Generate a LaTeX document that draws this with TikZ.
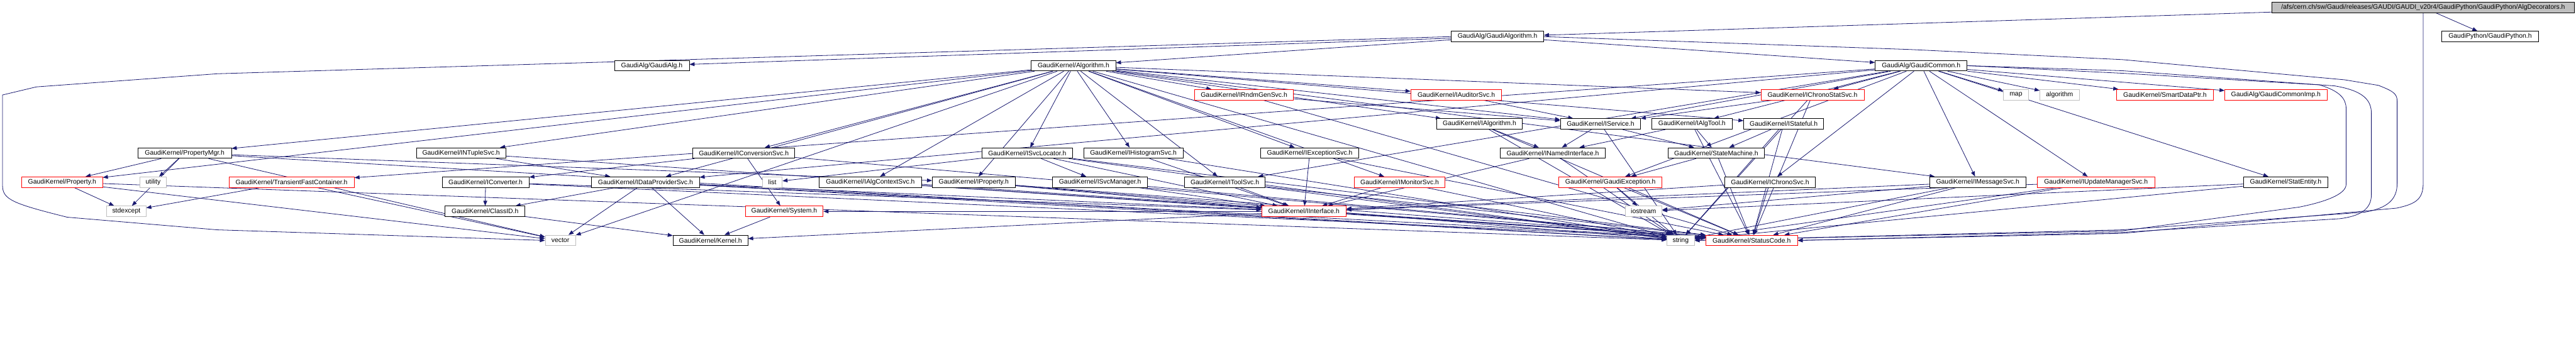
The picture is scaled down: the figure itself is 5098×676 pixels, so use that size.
\documentclass[tikz,border=0pt]{standalone}
\usepackage{fontspec}
\setmainfont{Liberation Sans}
\usetikzlibrary{arrows.meta}
\definecolor{edgec}{HTML}{191970}
\definecolor{greyc}{HTML}{BFBFBF}
\pgfdeclarelayer{bgl}
\pgfdeclarelayer{edgel}
\pgfsetlayers{bgl,edgel,main}
\newcommand\nd[6]{\node[#5, minimum width={(#3-#2)*0.5pt}] (#1) at ({(#2+#3)/2},#4) {#6};}
\begin{document}
\begin{tikzpicture}[x=0.5pt,y=-0.5pt,
  box/.style={draw=black, fill=white, line width=0.5pt, minimum height=10.5pt, inner sep=0pt,
              font=\fontsize{6.5}{7.8}\selectfont, text=black},
  redbox/.style={box, draw=red},
  sysbox/.style={box, draw=greyc},
  rootbox/.style={box, fill=greyc},
  edge/.style={draw=edgec, line width=0.5pt, -{Triangle[length=5pt,width=3.8pt]}}]
\useasboundingbox (0,0) rectangle (5098,676);
\begin{pgfonlayer}{bgl}
\fill[white] (0,0) rectangle (5098,676);
\end{pgfonlayer}
% row 0
\nd{root}{4496}{5095}{14.5}{rootbox}{/afs/cern.ch/sw/Gaudi/releases/GAUDI/GAUDI\_v20r4/GaudiPython/GaudiPython/AlgDecorators.h}
% row 1
\nd{galgo}{2872}{3055}{72.5}{box}{GaudiAlg/GaudiAlgorithm.h}
\nd{gpy}{4832}{5024}{72.5}{box}{GaudiPython/GaudiPython.h}
% row 2
\nd{galg}{1216}{1364}{130}{box}{GaudiAlg/GaudiAlg.h}
\nd{algo}{2041}{2208}{130}{box}{GaudiKernel/Algorithm.h}
\nd{gcom}{3711}{3893}{130}{box}{GaudiAlg/GaudiCommon.h}
% row 3
\nd{irndm}{2364}{2560}{187.5}{redbox}{GaudiKernel/IRndmGenSvc.h}
\nd{iaud}{2792}{2972}{187.5}{redbox}{GaudiKernel/IAuditorSvc.h}
\nd{icss}{3485}{3689}{187.5}{redbox}{GaudiKernel/IChronoStatSvc.h}
\nd{map}{3965}{4014}{187.5}{sysbox}{map}
\nd{algorithm}{4037}{4115}{187.5}{sysbox}{algorithm}
\nd{sdp}{4189}{4380}{187.5}{redbox}{GaudiKernel/SmartDataPtr.h}
\nd{gcimp}{4403}{4605}{187.5}{redbox}{GaudiAlg/GaudiCommonImp.h}
% row 4
\nd{ialg}{2843}{3013}{245.5}{box}{GaudiKernel/IAlgorithm.h}
\nd{isvc}{3088}{3247}{245.5}{box}{GaudiKernel/IService.h}
\nd{ialgtool}{3269}{3428}{245.5}{box}{GaudiKernel/IAlgTool.h}
\nd{istf}{3451}{3609}{245.5}{box}{GaudiKernel/IStateful.h}
% row 5
\nd{pmgr}{273}{458}{303}{box}{GaudiKernel/PropertyMgr.h}
\nd{intup}{824}{1001}{303}{box}{GaudiKernel/INTupleSvc.h}
\nd{iconvsvc}{1371}{1573}{303}{box}{GaudiKernel/IConversionSvc.h}
\nd{isvcloc}{1943}{2123}{303}{box}{GaudiKernel/ISvcLocator.h}
\nd{ihist}{2145}{2341}{303}{box}{GaudiKernel/IHistogramSvc.h}
\nd{iexc}{2495}{2689}{303}{box}{GaudiKernel/IExceptionSvc.h}
\nd{inamed}{2969}{3177}{303}{box}{GaudiKernel/INamedInterface.h}
\nd{sm}{3301}{3492}{303}{box}{GaudiKernel/StateMachine.h}
% row 6
\nd{prop}{43}{203}{360.5}{redbox}{GaudiKernel/Property.h}
\nd{utility}{277}{329}{360.5}{sysbox}{utility}
\nd{tfc}{453}{701}{360.5}{redbox}{GaudiKernel/TransientFastContainer.h}
\nd{iconv}{875}{1047}{360.5}{box}{GaudiKernel/IConverter.h}
\nd{idp}{1171}{1384}{360.5}{box}{GaudiKernel/IDataProviderSvc.h}
\nd{list}{1509}{1548}{360.5}{sysbox}{list}
\nd{iactx}{1621}{1824}{360.5}{box}{GaudiKernel/IAlgContextSvc.h}
\nd{iprop}{1845}{2009}{360.5}{box}{GaudiKernel/IProperty.h}
\nd{isvcmgr}{2083}{2271}{360.5}{box}{GaudiKernel/ISvcManager.h}
\nd{itool}{2344}{2504}{360.5}{box}{GaudiKernel/IToolSvc.h}
\nd{imon}{2680}{2860}{360.5}{redbox}{GaudiKernel/IMonitorSvc.h}
\nd{gexc}{3085}{3289}{360.5}{redbox}{GaudiKernel/GaudiException.h}
\nd{ichrono}{3413}{3593}{360.5}{box}{GaudiKernel/IChronoSvc.h}
\nd{imsg}{3819}{4009}{360.5}{box}{GaudiKernel/IMessageSvc.h}
\nd{iupd}{4032}{4264}{360.5}{redbox}{GaudiKernel/IUpdateManagerSvc.h}
\nd{stat}{4440}{4607}{360.5}{box}{GaudiKernel/StatEntity.h}
% row 7
\nd{stdexcept}{211}{289}{418.5}{sysbox}{stdexcept}
\nd{classid}{881}{1039}{418.5}{box}{GaudiKernel/ClassID.h}
\nd{system}{1475}{1629}{418.5}{redbox}{GaudiKernel/System.h}
\nd{iint}{2497}{2664}{418.5}{redbox}{GaudiKernel/IInterface.h}
\nd{iostream}{3216}{3289}{418.5}{sysbox}{iostream}
% row 8
\nd{vector}{1079}{1139}{476}{sysbox}{vector}
\nd{kernel}{1332}{1480}{476}{box}{GaudiKernel/Kernel.h}
\nd{string}{3299}{3353}{476}{sysbox}{string}
\nd{sc}{3376}{3557}{476}{redbox}{GaudiKernel/StatusCode.h}

\begin{pgfonlayer}{edgel}
\foreach \a/\b in {root/gpy, root/galgo,
  galgo/algo, galgo/galg, galgo/gcom,
  algo/iprop, algo/ialg, algo/isvc, algo/pmgr, algo/isvcloc, algo/imsg, algo/istf,
  algo/string, algo/vector, algo/idp, algo/ihist, algo/iconvsvc, algo/intup, algo/icss,
  algo/irndm, algo/iaud, algo/itool, algo/imon, algo/iexc, algo/iactx, algo/prop,
  gcom/icss, gcom/map, gcom/algorithm, gcom/sdp, gcom/gcimp, gcom/imsg, gcom/iupd,
  gcom/stat, gcom/ialgtool, gcom/itool, gcom/idp, gcom/ichrono, gcom/tfc, gcom/isvc, gcom/gexc,
  pmgr/prop, pmgr/utility, pmgr/stdexcept, pmgr/iprop, pmgr/vector, pmgr/string,
  prop/stdexcept, prop/vector, prop/string,
  tfc/stdexcept, tfc/vector,
  intup/idp, intup/sc,
  iconvsvc/iconv, iconvsvc/system, iconvsvc/sc,
  iconv/classid, iconv/iint, iconv/sc,
  idp/kernel, idp/vector, idp/iint, idp/sc, idp/string, idp/classid,
  isvcloc/list, isvcloc/isvcmgr, isvcloc/iint, isvcloc/string, isvcloc/sc,
  ihist/iint, ihist/string,
  iexc/iint, iexc/sc,
  iactx/iint, iactx/sc,
  iprop/iint, iprop/string, iprop/sc,
  isvcmgr/iint, isvcmgr/sc,
  itool/iint, itool/string, itool/sc,
  imon/iint, imon/string,
  irndm/isvc, irndm/sc,
  iaud/isvc,
  icss/isvc, icss/sc, icss/string,
  ialg/inamed, ialg/sc, ialg/string,
  isvc/inamed, isvc/sm, isvc/string,
  ialgtool/inamed, ialgtool/sm, ialgtool/sc,
  istf/sm, istf/sc, istf/string,
  inamed/iint, inamed/string,
  sm/gexc, sm/sc,
  gexc/iostream, gexc/string, gexc/sc,
  ichrono/iint, ichrono/sc,
  imsg/iint, imsg/iostream, imsg/string, imsg/sc,
  iupd/iint, iupd/string, iupd/sc,
  stat/iostream, stat/string,
  system/kernel, classid/kernel, iint/kernel, iint/sc, iint/system}
  \draw[edge] (\a) -- (\b);
% long routed edges
\draw[edge] (galgo.west) -- (430,146) -- (72,172) -- (5,188) -- (5,367)
  .. controls (5,395) and (25,403) .. (133,430) -- (430,455) -- (vector.west);
\draw[edge] (root.south) -- (4795.5,363) .. controls (4795.5,395) and (4780,404) .. (4743,412)
  -- (4200,462) -- (sc.east);
\draw[edge] (galgo.east) -- (3780,98) -- (4200,118) -- (4640,158) -- (4707,169)
  .. controls (4735,180) and (4744,185) .. (4744,200) -- (4744,363)
  .. controls (4744,395) and (4725,412) .. (4680,420) -- (4200,455) -- (string.east);
\draw[edge] (gcom.east) -- (4200,140) -- (4620,170) .. controls (4680,180) and (4693,200) .. (4693,225)
  -- (4693,385) .. controls (4693,415) and (4670,428) .. (4630,433) -- (4200,460) -- (sc.east);
\draw[edge] (gcom.east) -- (4200,145) -- (4590,168) .. controls (4630,180) and (4643,195) .. (4643,215)
  -- (4643,365) .. controls (4643,385) and (4600,400) .. (4550,410) -- (4200,457) -- (string.east);
\end{pgfonlayer}
\end{tikzpicture}
\end{document}
